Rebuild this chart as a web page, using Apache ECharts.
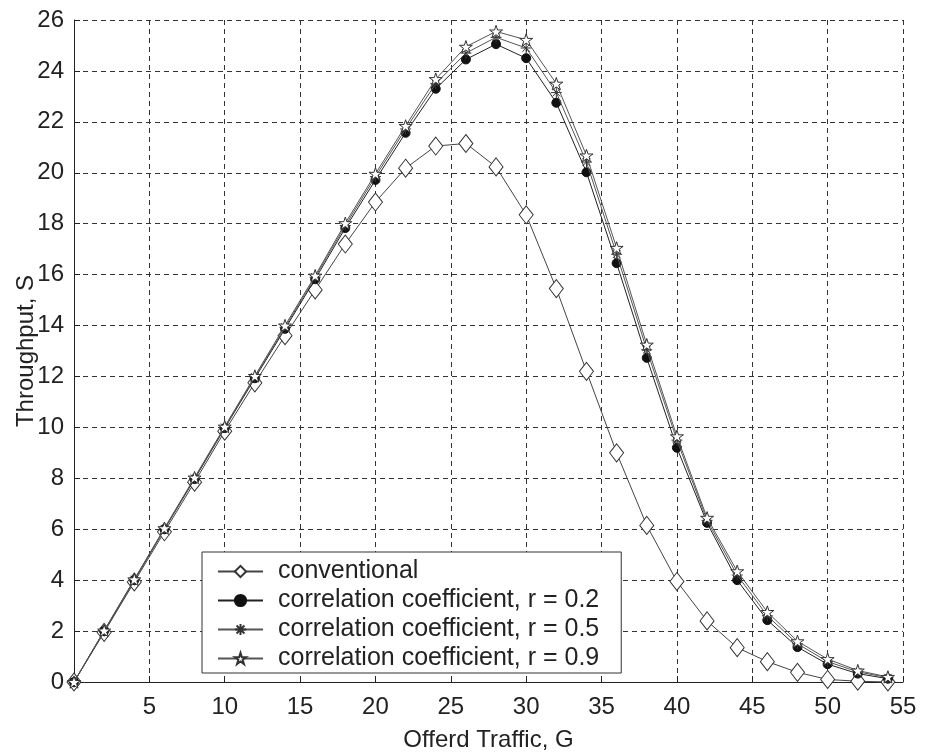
<!DOCTYPE html>
<html>
<head>
<meta charset="utf-8">
<script src="https://cdn.jsdelivr.net/npm/echarts@6/dist/echarts.min.js"></script>
<style>
html,body{margin:0;padding:0;background:#fff;}
#chart{width:930px;height:756px;}
</style>
</head>
<body>
<div id="chart"></div>
<script>
// Offered traffic G (x values)
const offeredTraffic = [0, 2, 4, 6, 8, 10, 12, 14, 16, 18, 20, 22, 24, 26, 28, 30, 32, 34, 36, 38, 40, 42, 44, 46, 48, 50, 52, 54];

// Throughput S
const conventional = [0, 1.95, 3.93, 5.9, 7.85, 9.85, 11.75, 13.6, 15.4, 17.2, 18.85, 20.18, 21.05, 21.15, 20.23, 18.35, 15.45, 12.2, 9.0, 6.15, 3.95, 2.4, 1.35, 0.8, 0.38, 0.1, 0.03, 0.0];
const corrR02 = [0, 2.0, 4.0, 6.0, 7.97, 9.97, 11.93, 13.87, 15.82, 17.83, 19.72, 21.57, 23.3, 24.45, 25.05, 24.5, 22.75, 20.02, 16.45, 12.73, 9.2, 6.25, 4.0, 2.43, 1.37, 0.7, 0.33, 0.13];
const corrR05 = [0, 2.0, 4.01, 6.02, 8.0, 10.0, 11.98, 13.93, 15.9, 17.93, 19.85, 21.72, 23.5, 24.7, 25.32, 24.9, 23.15, 20.42, 16.8, 13.05, 9.5, 6.35, 4.2, 2.6, 1.5, 0.8, 0.4, 0.17];
const corrR09 = [0, 2.02, 4.03, 6.04, 8.03, 10.03, 12.02, 14.0, 15.96, 18.02, 19.96, 21.84, 23.68, 24.95, 25.55, 25.22, 23.5, 20.68, 17.05, 13.25, 9.65, 6.45, 4.35, 2.75, 1.6, 0.9, 0.45, 0.2];

// Labels
const seriesNames = ['conventional', 'correlation coefficient, r = 0.2', 'correlation coefficient, r = 0.5', 'correlation coefficient, r = 0.9'];
const xTitle = 'Offerd Traffic, G';
const yTitle = 'Throughput, S';

const pairs = vals => offeredTraffic.map((g, i) => [g, vals[i]]);

const FONT = '"Liberation Sans", Arial, Helvetica, sans-serif';
const INK = '#222';

const starPath = 'path://M50 0 L61.2 34.5 L97.6 34.5 L68.2 55.9 L79.4 90.5 L50 69.1 L20.6 90.5 L31.8 55.9 L2.4 34.5 L38.8 34.5 Z';
const asteriskPath = 'path://M50 0 L50 100 M0 50 L100 50 M15 15 L85 85 M85 15 L15 85';

const chart = echarts.init(document.getElementById('chart'), null, {renderer: 'canvas'});

chart.setOption({
  backgroundColor: '#fff',
  animation: false,
  textStyle: {fontFamily: FONT},
  grid: {left: 74, right: 27, top: 20, bottom: 74, containLabel: false, outerBoundsMode: 'none'},
  xAxis: {
    type: 'value',
    min: 0, max: 55, interval: 5,
    name: xTitle,
    nameLocation: 'middle',
    nameGap: 46,
    nameMoveOverlap: false,
    nameTextStyle: {fontSize: 24, color: INK, fontFamily: FONT},
    axisLine: {show: true, onZero: false, lineStyle: {color: '#222', width: 1}},
    axisTick: {show: true, inside: true, length: 6, lineStyle: {color: '#222'}},
    axisLabel: {
      fontSize: 24, color: INK, margin: 13, fontFamily: FONT,
      formatter: v => (v === 0 ? '' : String(v))
    },
    splitLine: {show: true, lineStyle: {color: '#333', width: 1, type: [5, 4]}}
  },
  yAxis: {
    type: 'value',
    min: 0, max: 26, interval: 2,
    name: yTitle,
    nameLocation: 'middle',
    nameGap: 36,
    nameRotate: 90,
    nameMoveOverlap: false,
    nameTextStyle: {fontSize: 24, color: INK, fontFamily: FONT},
    axisLine: {show: true, lineStyle: {color: '#222', width: 1}},
    axisTick: {show: true, inside: true, length: 6, lineStyle: {color: '#222'}},
    axisLabel: {fontSize: 24, color: INK, margin: 10, fontFamily: FONT},
    splitLine: {show: true, lineStyle: {color: '#333', width: 1, type: [5, 4]}}
  },
  legend: {
    orient: 'vertical',
    left: 202, top: 552,
    backgroundColor: '#fff',
    borderColor: '#333', borderWidth: 1, borderRadius: 0,
    padding: [7, 22, 2, 15],
    itemWidth: 45, itemHeight: 14, itemGap: 4,
    textStyle: {fontSize: 25, color: INK, fontFamily: FONT, padding: [0, 0, 0, 10]},
    data: seriesNames
  },
  series: [
    {
      name: seriesNames[0], type: 'line', data: pairs(conventional),
      symbol: 'diamond', symbolSize: [14, 18],
      lineStyle: {color: '#444', width: 1},
      itemStyle: {color: '#fff', borderColor: '#333', borderWidth: 1},
      z: 2
    },
    {
      name: seriesNames[1], type: 'line', data: pairs(corrR02),
      symbol: 'circle', symbolSize: 9,
      lineStyle: {color: '#222', width: 1},
      itemStyle: {color: '#111', borderColor: '#111', borderWidth: 1},
      z: 3
    },
    {
      name: seriesNames[2], type: 'line', data: pairs(corrR05),
      symbol: asteriskPath, symbolSize: 11, symbolKeepAspect: true,
      lineStyle: {color: '#555', width: 1},
      itemStyle: {color: 'rgba(0,0,0,0)', borderColor: '#333', borderWidth: 1},
      z: 4
    },
    {
      name: seriesNames[3], type: 'line', data: pairs(corrR09),
      symbol: starPath, symbolSize: 13, symbolKeepAspect: true,
      lineStyle: {color: '#555', width: 1},
      itemStyle: {color: '#fff', borderColor: '#333', borderWidth: 1},
      z: 5
    }
  ]
});
</script>
</body>
</html>
